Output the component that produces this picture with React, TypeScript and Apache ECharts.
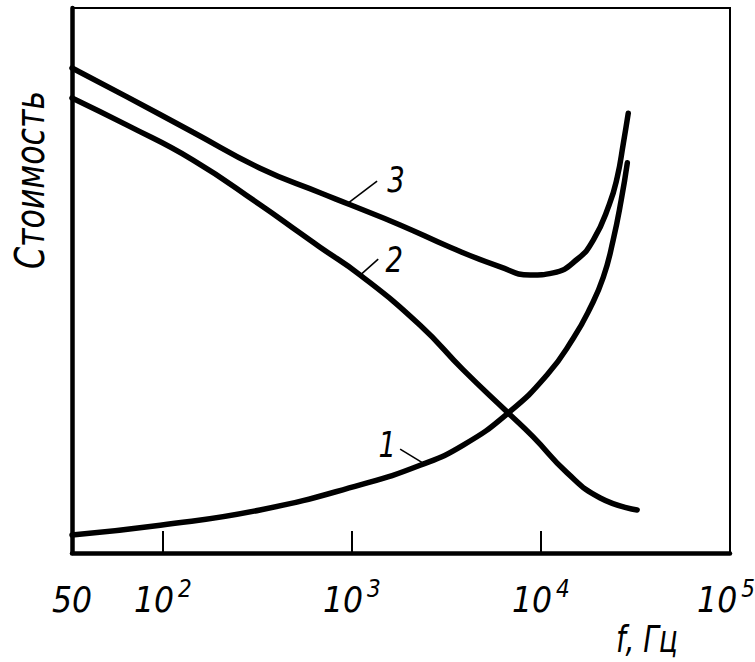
import React, { useEffect, useRef } from "react";
import * as echarts from "echarts";

// Frequency axis (Hz), drawn on a logarithmic scale
const AXIS_MIN_F = 33.1;
const AXIS_MAX_F = 100000;
const tickFreqs = [100, 1000, 10000];
const labelFreqs = [AXIS_MIN_F, 100, 1000, 10000, 100000];
const labelBase = ["50", "10", "10", "10", "10"];
const labelExp = ["", "2", "3", "4", "5"];

// Curve 1
const curve1F = [33.1, 97, 327, 1107, 2296, 3882, 6714, 10790, 14830, 18240, 21380, 24100, 26600, 28640];
const curve1C = [3.3, 5.1, 7.9, 12.5, 16.1, 19.8, 25.7, 32.7, 39.4, 45.0, 50.6, 57.4, 64.8, 71.6];
// Curve 2
const curve2F = [33.1, 64.7, 144.5, 327, 532, 679, 1107, 2296, 3882, 6714, 9100, 13770, 20600, 32280];
const curve2C = [83.5, 78.5, 72.1, 63.9, 58.7, 56.1, 51.0, 41.8, 33.6, 25.7, 21.3, 14.7, 10.1, 7.9];
// Curve 3
const curve3F = [33.1, 64.7, 144.5, 327, 679, 980, 1799, 3311, 6095, 8770, 11610, 15560, 18920, 22960, 25350, 27290, 28970];
const curve3C = [89.0, 83.7, 77.2, 70.6, 66.1, 63.9, 60.2, 56.1, 52.5, 51.0, 51.4, 53.9, 57.4, 63.9, 69.0, 75.2, 80.7];

// Curve labels: anchor on curve (data space)
const annText = ["3", "2", "1"];
const annF = [955, 1107, 2382];
const annC = [64.2, 51.0, 16.5];

const FONT = '"DejaVu Sans Condensed", "DejaVu Sans", sans-serif';

function toPts(f: number[], c: number[]) {
  return f.map((v, i) => [Math.log10(v), c[i]]);
}

export default function App() {
  const ref = useRef<HTMLDivElement>(null);
  useEffect(() => {
    if (!ref.current) return;
    const chart = echarts.init(ref.current, null, { renderer: "svg" });
    const lineStyle = { color: "#000", width: 5.5, cap: "round" as const };
    const lineSeries = (f: number[], c: number[]) => ({
      type: "line",
      data: toPts(f, c),
      smooth: 0.5,
      showSymbol: false,
      lineStyle,
      clip: false,
    });
    const labelFont = {
      fontFamily: FONT,
      fontStyle: "italic",
      color: "#000",
    };
    chart.setOption({
      animation: false,
      backgroundColor: "#fff",
      grid: {
        left: 72,
        top: 8,
        right: 25,
        bottom: 109,
        show: true,
        borderColor: "#000",
        borderWidth: 2,
        outerBoundsMode: "none",
        containLabel: false,
      },
      xAxis: {
        type: "value",
        min: Math.log10(AXIS_MIN_F),
        max: Math.log10(AXIS_MAX_F),
        axisLine: { show: true, lineStyle: { color: "#000", width: 4.5 } },
        splitLine: { show: false },
        axisTick: {
          show: true,
          inside: true,
          length: 22,
          lineStyle: { color: "#000", width: 2 },
          customValues: tickFreqs.map((v) => Math.log10(v)),
        },
        axisLabel: {
          show: true,
          margin: 24,
          hideOverlap: false,
          customValues: labelFreqs.map((v) => Math.log10(v)),
          formatter: (v: number) => {
            let idx = 0;
            let best = Infinity;
            labelFreqs.forEach((f, i) => {
              const d = Math.abs(Math.log10(f) - v);
              if (d < best) {
                best = d;
                idx = i;
              }
            });
            if (!labelExp[idx]) return `{b|${labelBase[idx]}}`;
            const last = idx === labelFreqs.length - 1;
            return `{b|${labelBase[idx]}}{${last ? "sl" : "s"}|${labelExp[idx]}}`;
          },
          rich: {
            b: { ...labelFont, fontSize: 35, lineHeight: 40, verticalAlign: "bottom" },
            s: { ...labelFont, fontSize: 24, lineHeight: 24, verticalAlign: "top", padding: [0, 0, 0, 4] },
            sl: { ...labelFont, fontSize: 24, lineHeight: 24, verticalAlign: "top", padding: [0, 8, 0, 4] },
          },
        },
      },
      yAxis: {
        type: "value",
        min: 0,
        max: 100,
        axisLine: { show: true, lineStyle: { color: "#000", width: 4.5 } },
        axisTick: { show: false },
        axisLabel: { show: false },
        splitLine: { show: false },
      },
      series: [
        lineSeries(curve1F, curve1C),
        lineSeries(curve2F, curve2C),
        lineSeries(curve3F, curve3C),
      ],
    });

    // Annotation offsets in pixels relative to curve anchor
    const leaderDx = [29, 18, -23];
    const leaderDy = [-22, -16, -14];
    const textDx = [48, 34, -36];
    const textDy = [-24, -15, -18];
    const graphic: any[] = [];
    annText.forEach((t, i) => {
      const p = chart.convertToPixel({ gridIndex: 0 }, [Math.log10(annF[i]), annC[i]]) as number[];
      graphic.push({
        type: "line",
        shape: { x1: p[0], y1: p[1], x2: p[0] + leaderDx[i], y2: p[1] + leaderDy[i] },
        style: { stroke: "#000", lineWidth: 1.6 },
      });
      graphic.push({
        type: "text",
        x: p[0] + textDx[i],
        y: p[1] + textDy[i],
        scaleX: 0.85,
        style: {
          text: t,
          fontFamily: FONT,
          fontStyle: "italic",
          fontSize: 36,
          fill: "#000",
          align: "center",
          verticalAlign: "middle",
        },
      });
    });
    graphic.push({
      type: "text",
      x: 30,
      y: 180,
      rotation: Math.PI / 2,
      scaleX: 0.88,
      style: {
        text: "Стоимость",
        fontFamily: FONT,
        fontStyle: "italic",
        fontSize: 40,
        fill: "#000",
        align: "center",
        verticalAlign: "middle",
      },
    });
    graphic.push({
      type: "text",
      x: 647,
      y: 639,
      scaleX: 0.82,
      style: {
        text: "f, Гц",
        fontFamily: FONT,
        fontStyle: "italic",
        fontSize: 38,
        fill: "#000",
        align: "center",
        verticalAlign: "middle",
      },
    });
    chart.setOption({ graphic });

    return () => chart.dispose();
  }, []);
  return (
    <div
      ref={ref}
      style={{ position: "fixed", left: 0, top: 0, width: 755, height: 662 }}
    />
  );
}
